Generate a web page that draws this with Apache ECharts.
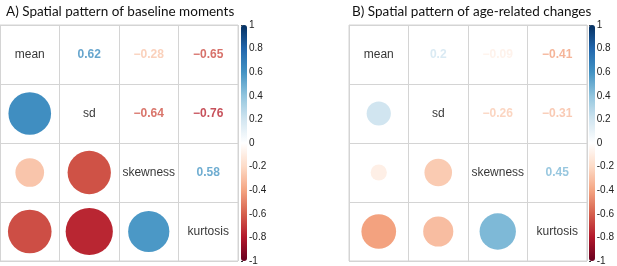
<!DOCTYPE html>
<html>
<head>
<meta charset="utf-8">
<script src="https://cdn.jsdelivr.net/npm/echarts@6/dist/echarts.min.js"></script>
<style>
  html, body { margin: 0; padding: 0; background: #fff; }
  #chart { width: 617px; height: 266px; }
</style>
</head>
<body>
<div id="chart"></div>
<script>
// variable names on the diagonal
const vars = ['mean', 'sd', 'skewness', 'kurtosis'];
// pair order: mean-sd, mean-skewness, mean-kurtosis, sd-skewness, sd-kurtosis, skewness-kurtosis
const pairs = [[0, 1], [0, 2], [0, 3], [1, 2], [1, 3], [2, 3]];
const baselineR = [0.62, -0.28, -0.65, -0.64, -0.76, 0.58];
const changeR = [0.2, -0.09, -0.41, -0.26, -0.31, 0.45];
const titles = ['A) Spatial pattern of baseline moments', 'B) Spatial pattern of age-related changes'];
// corrplot RdBu palette, -1 -> 1
const rdbu = ['#67001F', '#B2182B', '#D6604D', '#F4A582', '#FDDBC7', '#FFFFFF',
  '#D1E5F0', '#92C5DE', '#4393C3', '#2166AC', '#053061'];

const chart = echarts.init(document.getElementById('chart'));

const panels = [
  { left: 0, barLeft: 241, r: baselineR },
  { left: 349, barLeft: 589, r: changeR }
];
const cellW = 59.5;
const gridTop = 25, gridSize = 236;

const fmt = v => String(v).replace('-', '\u2212');

const grid = [], xAxis = [], yAxis = [], series = [], visualMap = [];

panels.forEach((p, k) => {
  const gi = k * 2;
  grid.push({ left: p.left, top: gridTop, width: 238, height: gridSize, show: true,
    borderColor: '#d4d4d4', borderWidth: 1 });
  grid.push({ left: p.barLeft, top: gridTop, width: 6, height: gridSize });

  const catAxis = {
    type: 'category', data: vars, gridIndex: gi,
    axisLine: { show: false }, axisTick: { show: false }, axisLabel: { show: false },
    splitLine: { show: true, interval: 0, lineStyle: { color: '#d4d4d4', width: 1 } }
  };
  xAxis.push(Object.assign({}, catAxis));
  yAxis.push(Object.assign({}, catAxis, { inverse: true }));

  // colour bar tick axis
  xAxis.push({ type: 'value', gridIndex: gi + 1, show: false });
  yAxis.push({
    type: 'value', gridIndex: gi + 1, position: 'right', min: -1, max: 1, interval: 0.2,
    axisLine: { show: false }, splitLine: { show: false },
    axisTick: { show: true, length: 2, lineStyle: { color: '#333' } },
    axisLabel: { margin: 2, fontSize: 10, color: '#222', fontFamily: 'Liberation Sans',
      formatter: v => String(Math.round(v * 10) / 10) }
  });

  const circles = pairs.map((pr, i) => [pr[0], pr[1], p.r[i]]);
  const numbers = pairs.map((pr, i) => [pr[1], pr[0], p.r[i]]);
  const diag = vars.map((v, i) => ({ value: [i, i], name: v }));

  const base = series.length;
  series.push({
    type: 'scatter', xAxisIndex: gi, yAxisIndex: gi, data: circles,
    symbolSize: v => cellW * 0.91 * Math.sqrt(Math.abs(v[2])),
    itemStyle: { opacity: 1 }, silent: true
  });
  series.push({
    type: 'scatter', xAxisIndex: gi, yAxisIndex: gi, data: numbers,
    symbolSize: 0, silent: true,
    label: { show: true, position: 'inside', color: 'inherit', fontSize: 12,
      fontWeight: 'bold', fontFamily: 'Liberation Sans', formatter: d => fmt(d.value[2]) }
  });
  series.push({
    type: 'scatter', xAxisIndex: gi, yAxisIndex: gi, data: diag,
    symbolSize: 0, silent: true,
    label: { show: true, position: 'inside', color: '#000', fontSize: 12,
      fontFamily: 'Liberation Sans', formatter: d => d.name }
  });

  visualMap.push({
    type: 'continuous', min: -1, max: 1, dimension: 2,
    seriesIndex: [base, base + 1],
    left: p.barLeft, top: gridTop, itemWidth: 6, itemHeight: gridSize, padding: 0,
    calculable: false, hoverLink: false, text: null,
    inRange: { color: rdbu }
  });
});

chart.setOption({
  animation: false,
  title: titles.map((t, k) => ({
    text: t, left: k === 0 ? 1 : 347, top: 0,
    textStyle: { fontFamily: 'Lato', fontWeight: 'normal', fontSize: 13.5, color: '#111' }
  })),
  grid: grid,
  xAxis: xAxis,
  yAxis: yAxis,
  visualMap: visualMap,
  series: series
});
</script>
</body>
</html>
